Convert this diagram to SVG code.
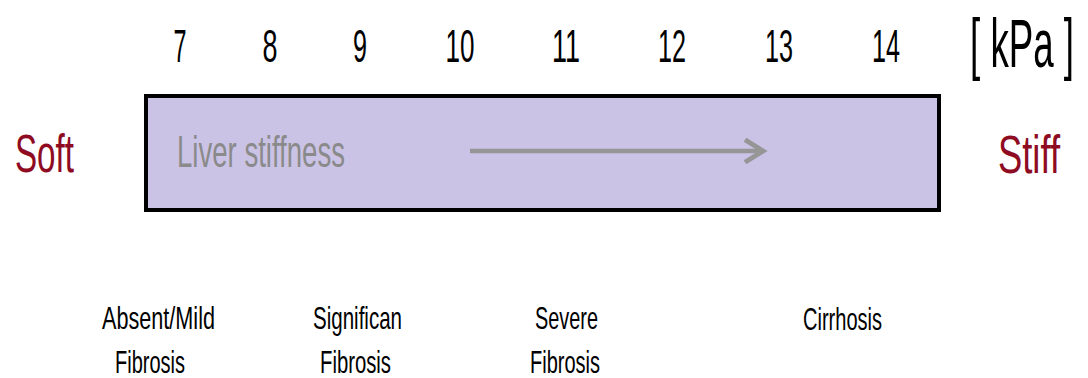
<svg xmlns="http://www.w3.org/2000/svg" width="1088" height="378" viewBox="0 0 1088 378">
<defs>
<style>
text { font-family: "Liberation Sans", Arial, sans-serif; }
.num { font-size: 46px; fill: #000; text-anchor: middle; }
.unit { font-size: 68px; fill: #000; }
.end { font-size: 54px; fill: #8E0B22; }
.lab { font-size: 32px; fill: #000; }
.inner { font-size: 44px; fill: #8A8A8A; }
</style>
<marker id="chev" viewBox="0 0 12 12" refX="10" refY="6" markerWidth="6" markerHeight="6" markerUnits="strokeWidth" orient="auto">
<path d="M2,1 L10,6 L2,11" fill="none" stroke="#969696" stroke-width="2.2"/>
</marker>
</defs>
<rect width="1088" height="378" fill="#ffffff"/>
<g id="scale">
<text class="num" x="180" y="62" textLength="13" lengthAdjust="spacingAndGlyphs">7</text>
<text class="num" x="270" y="62" textLength="15" lengthAdjust="spacingAndGlyphs">8</text>
<text class="num" x="360" y="62" textLength="14" lengthAdjust="spacingAndGlyphs">9</text>
<text class="num" x="460" y="62" textLength="29" lengthAdjust="spacingAndGlyphs">10</text>
<text class="num" x="566" y="62" textLength="28" lengthAdjust="spacingAndGlyphs">11</text>
<text class="num" x="672" y="62" textLength="28" lengthAdjust="spacingAndGlyphs">12</text>
<text class="num" x="779" y="62" textLength="28" lengthAdjust="spacingAndGlyphs">13</text>
<text class="num" x="886" y="62" textLength="28" lengthAdjust="spacingAndGlyphs">14</text>
<text class="unit" transform="translate(970,67) scale(0.54,1)" x="0" y="0">[ kPa ]</text>
</g>
<g id="soft">
<text class="end" x="15" y="172" textLength="59" lengthAdjust="spacingAndGlyphs">Soft</text>
</g>
<g id="stiff">
<text class="end" x="998" y="173" textLength="62" lengthAdjust="spacingAndGlyphs">Stiff</text>
</g>
<g id="bar">
<rect x="146" y="96" width="793" height="114" fill="#CAC3E6" stroke="#000" stroke-width="4"/>
<text class="inner" x="177" y="167" textLength="168" lengthAdjust="spacingAndGlyphs">Liver stiffness</text>
</g>
<g id="connectors">
<line x1="470" y1="151" x2="763" y2="151" stroke="#969696" stroke-width="4.5" marker-end="url(#chev)"/>
</g>
<g id="absent">
<text class="lab" x="102" y="329" textLength="113" lengthAdjust="spacingAndGlyphs">Absent/Mild</text>
<text class="lab" x="115" y="373" textLength="70" lengthAdjust="spacingAndGlyphs">Fibrosis</text>
</g>
<g id="significant">
<text class="lab" x="313" y="329" textLength="89" lengthAdjust="spacingAndGlyphs">Significan</text>
<text class="lab" x="320" y="373" textLength="71" lengthAdjust="spacingAndGlyphs">Fibrosis</text>
</g>
<g id="severe">
<text class="lab" x="535" y="329" textLength="63" lengthAdjust="spacingAndGlyphs">Severe</text>
<text class="lab" x="530" y="373" textLength="70" lengthAdjust="spacingAndGlyphs">Fibrosis</text>
</g>
<g id="cirrhosis">
<text class="lab" x="803" y="330" textLength="79" lengthAdjust="spacingAndGlyphs">Cirrhosis</text>
</g>
</svg>
